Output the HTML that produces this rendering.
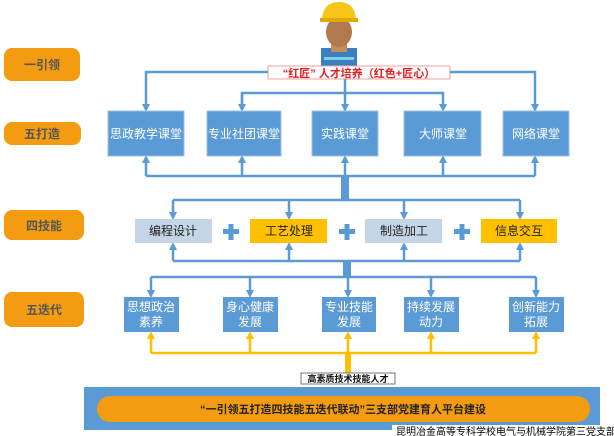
<!DOCTYPE html>
<html><head><meta charset="utf-8"><style>
html,body{margin:0;padding:0;background:#fff;width:614px;height:436px;overflow:hidden}
svg text{font-family:"Liberation Sans","Noto Sans CJK SC",sans-serif}
</style></head><body>
<svg width="614" height="436" viewBox="0 0 614 436" xmlns="http://www.w3.org/2000/svg">
<defs>
<marker id="ab" markerWidth="8" markerHeight="8" refX="4" refY="4" orient="auto" markerUnits="userSpaceOnUse">
<path d="M0,0 L8,4 L0,8 z" fill="#5b9bd5"/></marker>
<marker id="ay" markerWidth="8" markerHeight="8" refX="4" refY="4" orient="auto" markerUnits="userSpaceOnUse">
<path d="M0,0 L8,4 L0,8 z" fill="#ffc000"/></marker>
</defs>
<g fill="#f39c12">
<rect x="4" y="48" width="76" height="33" rx="8"/>
<rect x="4" y="122" width="77" height="23" rx="8"/>
<rect x="4" y="210" width="80" height="30" rx="8"/>
<rect x="4" y="292" width="80" height="35" rx="8"/>
</g>
<g font-size="12" fill="#555" text-anchor="middle" font-weight="bold">
<text x="42" y="69">一引领</text>
<text x="42" y="138">五打造</text>
<text x="44" y="230">四技能</text>
<text x="44" y="314">五迭代</text>
</g>
<rect x="321" y="48" width="36" height="18" fill="#3a7fbf"/>
<rect x="331" y="44" width="16" height="8" fill="#c98a5a"/>
<rect x="324" y="57" width="30" height="3" fill="#7fd0e0"/>
<ellipse cx="339" cy="32" rx="13" ry="15" fill="#b07a50"/>
<path d="M322,20 Q323,2 339,2 Q355,2 356,20 z" fill="#f5c518"/>
<rect x="320" y="18" width="38" height="4" fill="#e0a800"/>
<rect x="268" y="66" width="182" height="13" fill="#fff" stroke="#f0a0a0"/>
<text x="359" y="77" font-size="11" fill="#e02020" text-anchor="middle" font-weight="bold">“红匠” 人才培养（红色+匠心）</text>
<g stroke="#5b9bd5" stroke-width="2.5" fill="none">
<path d="M268,72 H146 V108" marker-end="url(#ab)"/>
<path d="M450,72 H535 V108" marker-end="url(#ab)"/>
<path d="M345,79 V108" marker-end="url(#ab)"/>
<path d="M242,108 V93 H443 V108" marker-end="url(#ab)"/>
<path d="M242,93 V108" marker-end="url(#ab)"/>
<path d="M146,176 H535"/>
<path d="M146,176 V159" marker-end="url(#ab)"/>
<path d="M242,176 V159" marker-end="url(#ab)"/>
<path d="M345,176 V159" marker-end="url(#ab)"/>
<path d="M443,176 V159" marker-end="url(#ab)"/>
<path d="M535,176 V159" marker-end="url(#ab)"/>
<path d="M173,200 H520"/>
<path d="M173,200 V216" marker-end="url(#ab)"/>
<path d="M289,200 V216" marker-end="url(#ab)"/>
<path d="M404,200 V216" marker-end="url(#ab)"/>
<path d="M520,200 V216" marker-end="url(#ab)"/>
<path d="M173,261 H520"/>
<path d="M173,261 V246" marker-end="url(#ab)"/>
<path d="M289,261 V246" marker-end="url(#ab)"/>
<path d="M404,261 V246" marker-end="url(#ab)"/>
<path d="M520,261 V246" marker-end="url(#ab)"/>
<path d="M151,277 H536"/>
<path d="M151,277 V294" marker-end="url(#ab)"/>
<path d="M250,277 V294" marker-end="url(#ab)"/>
<path d="M348,277 V294" marker-end="url(#ab)"/>
<path d="M431,277 V294" marker-end="url(#ab)"/>
<path d="M536,277 V294" marker-end="url(#ab)"/>
</g>
<rect x="341" y="176" width="8" height="24" fill="#5b9bd5"/>
<rect x="343" y="261" width="8" height="16" fill="#5b9bd5"/>
<g fill="#5b9bd5" stroke="#9cc3e6" stroke-width="1">
<rect x="108" y="111" width="76" height="45"/>
<rect x="207" y="111" width="74" height="45"/>
<rect x="312" y="111" width="66" height="45"/>
<rect x="404" y="111" width="77" height="45"/>
<rect x="503" y="111" width="66" height="45"/>
</g>
<g font-size="12" fill="#fff" text-anchor="middle">
<text x="146" y="138">思政教学课堂</text>
<text x="244" y="138">专业社团课堂</text>
<text x="345" y="138">实践课堂</text>
<text x="443" y="138">大师课堂</text>
<text x="536" y="138">网络课堂</text>
</g>
<rect x="135" y="219" width="77" height="24" fill="#c5d5e8"/>
<rect x="250" y="219" width="77" height="24" fill="#ffc000"/>
<rect x="365" y="219" width="77" height="24" fill="#c5d5e8"/>
<rect x="481" y="219" width="76" height="24" fill="#ffc000"/>
<g font-size="12" fill="#222" text-anchor="middle">
<text x="173" y="235">编程设计</text>
<text x="289" y="235">工艺处理</text>
<text x="404" y="235">制造加工</text>
<text x="519" y="235">信息交互</text>
</g>
<g fill="#5b9bd5">
<rect x="223" y="229" width="16" height="5"/><rect x="228.5" y="224" width="5" height="16"/>
<rect x="339" y="229" width="16" height="5"/><rect x="344.5" y="224" width="5" height="16"/>
<rect x="454" y="229" width="16" height="5"/><rect x="459.5" y="224" width="5" height="16"/>
</g>
<g fill="#5b9bd5">
<rect x="124" y="297" width="55" height="35"/>
<rect x="223" y="297" width="55" height="35"/>
<rect x="322" y="297" width="54" height="35"/>
<rect x="404" y="297" width="55" height="35"/>
<rect x="509" y="297" width="55" height="35"/>
</g>
<g font-size="12" fill="#fff" text-anchor="middle">
<text x="151" y="311">思想政治</text><text x="151" y="326">素养</text>
<text x="250" y="311">身心健康</text><text x="250" y="326">发展</text>
<text x="349" y="311">专业技能</text><text x="349" y="326">发展</text>
<text x="431" y="311">持续发展</text><text x="431" y="326">动力</text>
<text x="536" y="311">创新能力</text><text x="536" y="326">拓展</text>
</g>
<g stroke="#ffc000" stroke-width="2.5" fill="none">
<path d="M151,353 H536"/>
<path d="M151,353 V335" marker-end="url(#ay)"/>
<path d="M250,353 V335" marker-end="url(#ay)"/>
<path d="M348,353 V335" marker-end="url(#ay)"/>
<path d="M431,353 V335" marker-end="url(#ay)"/>
<path d="M536,353 V335" marker-end="url(#ay)"/>
</g>
<rect x="345" y="353" width="6" height="20" fill="#ffc000"/>
<rect x="301" y="373" width="94" height="11" fill="#fff" stroke="#555" stroke-width="0.8"/>
<text x="348" y="382" font-size="9" fill="#111" text-anchor="middle" font-weight="bold">高素质技术技能人才</text>
<rect x="84" y="387" width="516" height="43" fill="#5b9bd5"/>
<rect x="97" y="396" width="493" height="26" rx="13" fill="#f39c12"/>
<text x="343" y="413" font-size="11" fill="#222" text-anchor="middle" font-weight="bold">“一引领五打造四技能五迭代联动”三支部党建育人平台建设</text>
<rect x="392" y="425" width="222" height="11" fill="#fff"/>
<text x="396" y="435" font-size="10" fill="#000">昆明冶金高等专科学校电气与机械学院第三党支部</text>
</svg>
</body></html>
